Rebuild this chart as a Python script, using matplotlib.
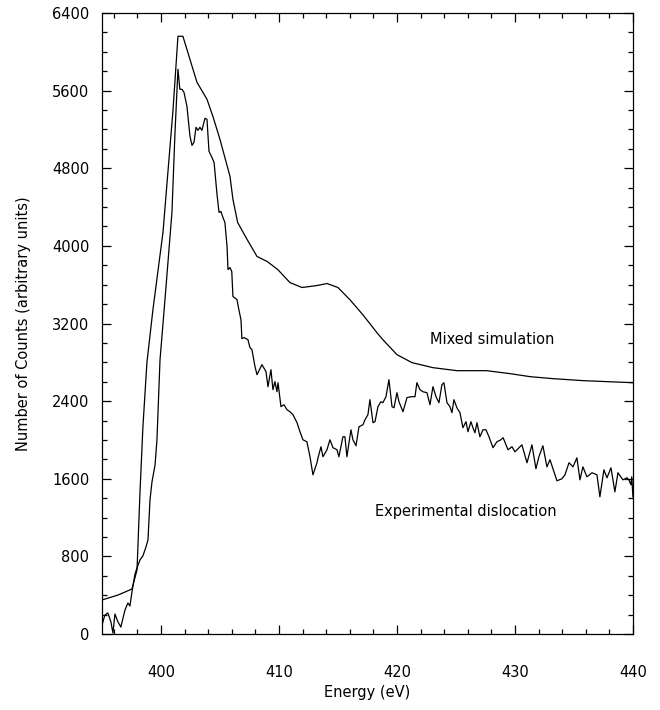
import numpy as np
import matplotlib.pyplot as plt
from matplotlib.ticker import MultipleLocator

# Mixed simulation (smooth curve)
sim_energy = [395.0, 396.36, 397.54, 397.97, 398.22, 398.47, 398.81, 399.32, 400.17,
              401.02, 401.44, 401.86, 403.05, 403.9, 404.4, 405.0, 405.85, 406.1,
              406.5, 407.3, 408.14, 409.0, 409.9, 410.93, 411.95, 413.2, 414.07,
              415.0, 416.0, 417.1, 418.3, 418.8, 420.0, 421.27, 423.05, 425.08,
              427.6, 429.6, 431.3, 433.2, 435.8, 437.8, 440.0]
sim_counts = [351, 402, 464, 660, 1455, 2136, 2797, 3344, 4138,
              5400, 6160, 6160, 5686, 5511, 5335, 5098, 4716, 4479,
              4241, 4066, 3891, 3839, 3756, 3622, 3571, 3591, 3612,
              3571, 3447, 3292, 3106, 3034, 2879, 2797, 2745, 2714,
              2714, 2683, 2652, 2632, 2611, 2601, 2590]

# Experimental dislocation (noisy curve)
exp_energy = [395.0, 395.25, 395.5, 395.76, 395.93, 396.1, 396.36, 396.6, 396.95,
              397.2, 397.37, 397.54, 397.8, 397.97, 398.22, 398.47, 398.73, 398.9,
              399.07, 399.24, 399.5, 399.66, 399.92, 400.34, 400.93, 401.19, 401.44,
              401.6, 401.78, 401.95, 402.2, 402.46, 402.63, 402.8, 402.97, 403.14,
              403.3, 403.47, 403.73, 403.9, 404.07, 404.32, 404.5, 404.75, 404.92,
              405.08, 405.25, 405.42, 405.6, 405.68, 405.85, 406.0, 406.1, 406.44,
              406.6, 406.78, 406.86, 407.03, 407.37, 407.54, 407.71, 407.97, 408.14,
              408.56, 408.9, 409.07, 409.32, 409.49, 409.66, 409.83, 409.92, 410.17,
              410.42, 410.68, 410.93, 411.19, 411.53, 411.78, 412.03, 412.37, 412.63,
              412.88, 413.22, 413.31, 413.56, 413.73, 414.07, 414.32, 414.58, 414.92,
              415.08, 415.42, 415.59, 415.76, 416.1, 416.27, 416.53, 416.78, 417.12,
              417.29, 417.54, 417.71, 417.97, 418.14, 418.39, 418.64, 418.81, 419.07,
              419.32, 419.58, 419.75, 420.0, 420.17, 420.51, 420.85, 421.19, 421.53,
              421.69, 421.95, 422.2, 422.54, 422.8, 423.05, 423.31, 423.56, 423.81,
              423.98, 424.24, 424.49, 424.66, 424.83, 425.08, 425.34, 425.59, 425.85,
              426.02, 426.27, 426.44, 426.61, 426.78, 427.03, 427.29, 427.54, 427.8,
              428.14, 428.47, 428.81, 429.0, 429.41, 429.75, 430.0, 430.59, 431.02,
              431.44, 431.78, 432.03, 432.37, 432.71, 432.97, 433.56, 433.98, 434.24,
              434.58, 434.92, 435.25, 435.51, 435.76, 436.1, 436.53, 436.95, 437.2,
              437.54, 437.8, 438.14, 438.47, 438.73, 439.15, 439.49, 439.66, 439.83,
              439.9, 440.0]
exp_counts = [93, 196, 217, 124, 10, 206, 124, 72, 248,
              320, 289, 433, 619, 681, 764, 805, 898, 970,
              1383, 1569, 1744, 2002, 2828, 3447, 4345, 5170, 5820,
              5614, 5614, 5583, 5439, 5129, 5036, 5067, 5222, 5191,
              5222, 5191, 5315, 5304, 4974, 4912, 4861, 4530, 4345,
              4355, 4293, 4241, 3994, 3756, 3777, 3736, 3478, 3447,
              3344, 3240, 3044, 3055, 3034, 2952, 2931, 2755, 2673,
              2776, 2704, 2549, 2724, 2518, 2601, 2497, 2590, 2343,
              2363, 2312, 2291, 2260, 2178, 2085, 2002, 1981, 1827,
              1641, 1765, 1816, 1930, 1827, 1899, 2002, 1920, 1899,
              1827, 2033, 2033, 1827, 2105, 2002, 1940, 2136, 2157,
              2208, 2260, 2415, 2178, 2188, 2343, 2394, 2384, 2446,
              2621, 2343, 2332, 2487, 2394, 2291, 2436, 2446, 2446,
              2590, 2518, 2497, 2487, 2363, 2549, 2446, 2384, 2570,
              2590, 2384, 2343, 2281, 2415, 2332, 2281, 2126, 2188,
              2085, 2188, 2126, 2074, 2178, 2033, 2105, 2105, 2033,
              1920, 1981, 2002, 2023, 1899, 1930, 1878, 1950, 1765,
              1950, 1703, 1827, 1940, 1723, 1796, 1579, 1600, 1641,
              1765, 1723, 1816, 1589, 1723, 1620, 1662, 1641, 1414,
              1692, 1610, 1713, 1465, 1662, 1589, 1610, 1589, 1538,
              1620, 1414]

plt.rcParams['font.family'] = 'DejaVu Sans'

fig = plt.figure(figsize=(6.6, 7.1), dpi=100)
ax = fig.add_axes([0.1545, 0.107, 0.8045, 0.8747])

ax.plot(sim_energy, sim_counts, color='black', lw=0.9)
ax.plot(exp_energy, exp_counts, color='black', lw=0.9)

ax.set_xlim(395, 440)
ax.set_ylim(0, 6400)
ax.xaxis.set_major_locator(MultipleLocator(10))
ax.xaxis.set_minor_locator(MultipleLocator(2))
ax.yaxis.set_major_locator(MultipleLocator(800))
ax.yaxis.set_minor_locator(MultipleLocator(200))

ax.tick_params(which='both', direction='in', top=True, right=True, width=0.9)
ax.tick_params(which='major', length=6.5)
ax.tick_params(which='minor', length=3.5)
ax.tick_params(axis='x', which='major', pad=22, labelsize=10.5)
ax.tick_params(axis='y', which='major', pad=9, labelsize=10.5)
for s in ax.spines.values():
    s.set_linewidth(0.9)

ax.set_xlabel('Energy (eV)', fontsize=10.5, labelpad=4)
ax.set_ylabel('Number of Counts (arbitrary units)', fontsize=10.5, labelpad=15)

ax.text(422.8, 3034, 'Mixed simulation', fontsize=10.5, va='center', ha='left')
ax.text(418.1, 1259, 'Experimental dislocation', fontsize=10.5, va='center', ha='left')

fig.savefig('out.png', dpi=100)
